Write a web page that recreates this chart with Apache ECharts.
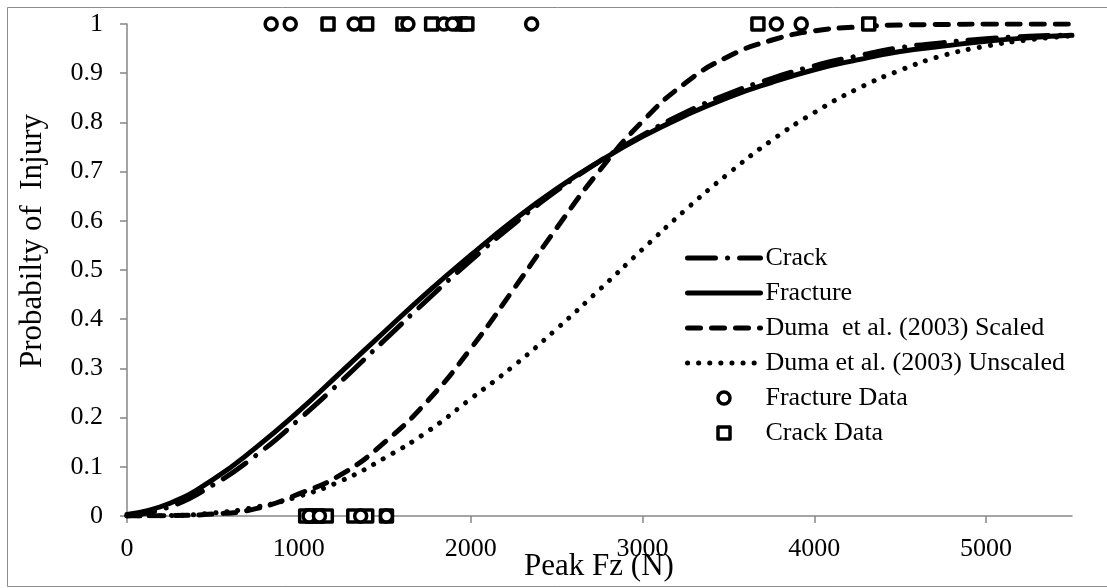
<!DOCTYPE html>
<html>
<head>
<meta charset="utf-8">
<script src="https://cdn.jsdelivr.net/npm/echarts@6/dist/echarts.min.js"></script>
<style>
html, body { margin: 0; padding: 0; background: #fff; }
#main { width: 1107px; height: 588px; }
</style>
</head>
<body>
<div id="main"></div>
<script>
// peak force (N) where the curves were read
var forces = [0, 250, 500, 750, 1000, 1250, 1500, 1750, 2000, 2250, 2500, 2750,
    3000, 3250, 3500, 3750, 4000, 4250, 4500, 4750, 5000, 5250, 5500];
var crack = [0, 0.019, 0.063, 0.123, 0.196, 0.275, 0.358, 0.44, 0.519, 0.593, 0.661, 0.721,
    0.774, 0.82, 0.858, 0.889, 0.915, 0.935, 0.952, 0.962, 0.97, 0.975, 0.978];
var fracture = [0.003, 0.026, 0.074, 0.139, 0.213, 0.294, 0.375, 0.455, 0.53, 0.601, 0.665, 0.721,
    0.771, 0.814, 0.851, 0.881, 0.907, 0.927, 0.944, 0.955, 0.965, 0.972, 0.977];
var dumaScaled = [0, 0.001, 0.004, 0.015, 0.045, 0.085, 0.15, 0.234, 0.34, 0.461, 0.585, 0.702,
    0.802, 0.88, 0.934, 0.967, 0.986, 0.994, 0.998, 0.999, 1, 1, 1];
var dumaUnscaled = [0, 0.001, 0.006, 0.018, 0.04, 0.072, 0.118, 0.172, 0.238, 0.305, 0.38, 0.46,
    0.542, 0.622, 0.696, 0.763, 0.82, 0.868, 0.906, 0.936, 0.955, 0.968, 0.976];
// test data, [force, injured]
var fractureData = [[839, 1], [950, 1], [1322, 1], [1635, 1], [1845, 1], [1895, 1], [2355, 1],
    [3779, 1], [3924, 1], [1060, 0], [1120, 0], [1360, 0], [1510, 0]];
var crackData = [[1170, 1], [1395, 1], [1606, 1], [1773, 1], [1945, 1], [1978, 1], [3672, 1], [4317, 1],
    [1040, 0], [1075, 0], [1110, 0], [1160, 0], [1320, 0], [1395, 0], [1510, 0]];
var xTicks = [0, 1000, 2000, 3000, 4000, 5000];

var serif = '"Liberation Serif", "Times New Roman", serif';
var axisGray = '#868686';
var squareIcon = 'path://M0,0L10,0L10,10L0,10Z';
var markerStyle = { color: '#fff', borderColor: '#000', borderWidth: 3.5, borderJoin: 'round', opacity: 1 };

function pairs(ys) {
    return forces.map(function (x, i) { return [x, ys[i]]; });
}
function curve(name, ys, dash) {
    return {
        name: name,
        type: 'line',
        data: pairs(ys),
        smooth: true,
        symbol: 'none',
        lineStyle: { color: '#000', width: 5, type: dash, cap: 'round', join: 'round' },
        itemStyle: { color: '#000' },
        z: 2
    };
}
// legend entry for a curve: line only, no marker
function lineItem(name) {
    return { name: name, itemStyle: { opacity: 0 } };
}

var myChart = echarts.init(document.getElementById('main'));
var option = {
    backgroundColor: '#fff',
    animation: false,
    grid: { left: 127, right: 35, top: 24, bottom: 72 },
    legend: {
        orient: 'vertical',
        left: 685,
        top: 244,
        padding: 0,
        itemWidth: 73,
        itemHeight: 12,
        itemGap: 7,
        lineStyle: { width: 5, cap: 'round' },
        textStyle: { fontFamily: serif, fontSize: 26, lineHeight: 28, color: '#000' },
        data: [
            lineItem('Crack'),
            lineItem('Fracture'),
            lineItem('Duma  et al. (2003) Scaled'),
            lineItem('Duma et al. (2003) Unscaled'),
            { name: 'Fracture Data', itemStyle: markerStyle },
            { name: 'Crack Data', itemStyle: markerStyle }
        ]
    },
    xAxis: {
        type: 'value',
        min: 0,
        max: 5500,
        interval: 1000,
        splitLine: { show: false },
        axisLine: { lineStyle: { color: axisGray, width: 1.5 } },
        axisTick: { length: 7, customValues: xTicks, lineStyle: { color: axisGray, width: 1.5 } },
        axisLabel: {
            customValues: xTicks, margin: 20, fontFamily: serif, fontSize: 26, color: '#000',
            formatter: function (v) { return String(v); }
        }
    },
    yAxis: {
        type: 'value',
        min: 0,
        max: 1,
        interval: 0.1,
        splitLine: { show: false },
        axisLine: { show: true, lineStyle: { color: axisGray, width: 1.5 } },
        axisTick: { show: true, length: 7, lineStyle: { color: axisGray, width: 1.5 } },
        axisLabel: {
            margin: 24, fontFamily: serif, fontSize: 26, color: '#000',
            formatter: function (v) { return (v === 0 || v === 1) ? String(v) : v.toFixed(1); }
        }
    },
    graphic: [
        {
            type: 'rect', silent: true, z: 100,
            shape: { x: 7.5, y: 7.5, width: 1120, height: 579 },
            style: { fill: 'none', stroke: '#8c8c8c', lineWidth: 1 }
        },
        {
            type: 'text', x: 33, y: 241, rotation: Math.PI / 2,
            style: { text: 'Probabilty of  Injury', font: '31px ' + serif, fill: '#000',
                textAlign: 'center', textVerticalAlign: 'middle' }
        },
        {
            type: 'text', x: 599, y: 567,
            style: { text: 'Peak Fz (N)', font: '31px ' + serif, fill: '#000',
                textAlign: 'center', textVerticalAlign: 'middle' }
        }
    ],
    series: [
        curve('Crack', crack, [28, 12, 0.1, 12]),
        curve('Fracture', fracture, 'solid'),
        curve('Duma  et al. (2003) Scaled', dumaScaled, [13, 11]),
        curve('Duma et al. (2003) Unscaled', dumaUnscaled, [0.1, 11]),
        {
            name: 'Fracture Data',
            type: 'scatter',
            data: fractureData,
            symbol: 'circle',
            symbolSize: 12,
            itemStyle: markerStyle,
            z: 4
        },
        {
            name: 'Crack Data',
            type: 'scatter',
            data: crackData,
            symbol: squareIcon,
            symbolSize: 12,
            symbolKeepAspect: true,
            itemStyle: markerStyle,
            z: 3
        }
    ]
};
myChart.setOption(option);
</script>
</body>
</html>
